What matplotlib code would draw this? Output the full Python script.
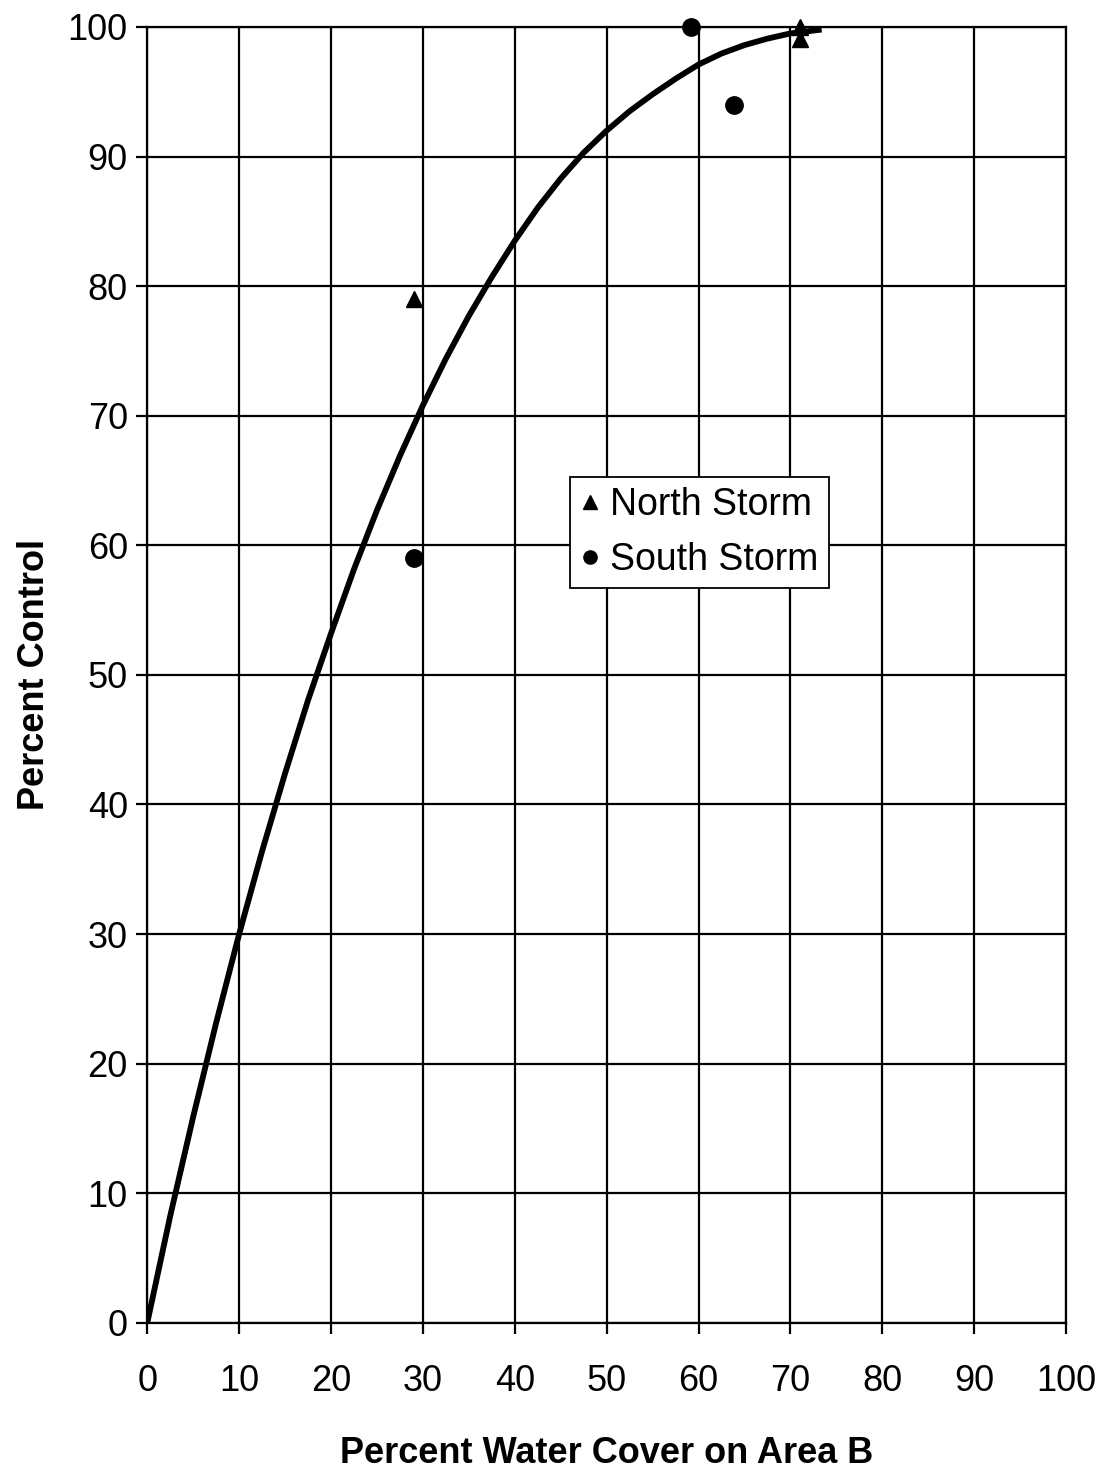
import matplotlib
matplotlib.use("Agg")
import matplotlib.pyplot as plt
from matplotlib.lines import Line2D

plt.rcParams['font.family'] = ['Liberation Sans', 'DejaVu Sans']

# Data
north_x = [29.0, 71.0, 71.0]
north_y = [79.0, 100.0, 99.1]
south_x = [29.0, 59.2, 63.9]
south_y = [59.0, 100.0, 94.0]

curve_x = [0, 2.5, 5, 7.5, 10, 12.5, 15, 17.5, 20, 22.5, 25, 27.5, 30, 32.5,
           35, 37.5, 40, 42.5, 45, 47.5, 50, 52.5, 55, 57.5, 60, 62.5, 65,
           67.5, 70, 73.4]
curve_y = [0.0, 8.25, 15.9, 23.15, 30.0, 36.4, 42.4, 48.05, 53.2, 58.15,
           62.7, 66.9, 70.8, 74.4, 77.7, 80.7, 83.5, 86.05, 88.3, 90.3, 92.0,
           93.5, 94.8, 96.0, 97.1, 97.95, 98.6, 99.1, 99.5, 99.8]

ticks = list(range(0, 101, 10))

fig = plt.figure(figsize=(10.99, 14.73), dpi=100)
ax = fig.add_axes([0.134, 0.102, 0.836, 0.8797])

ax.plot(curve_x, curve_y, color='black', lw=4.2, solid_capstyle='butt',
        solid_joinstyle='round', zorder=3)
ax.plot(north_x, north_y, linestyle='none', marker='^', color='black',
        markersize=12, zorder=4, clip_on=False)
ax.plot(south_x, south_y, linestyle='none', marker='o', color='black',
        markersize=12.5, zorder=4, clip_on=False)

ax.set_xlim(0, 100)
ax.set_ylim(0, 100)
ax.set_xticks(ticks)
ax.set_yticks(ticks)
ax.grid(True, color='black', lw=1.6)
ax.set_axisbelow(True)
for s in ax.spines.values():
    s.set_color('black')
    s.set_linewidth(1.6)
ax.tick_params(axis='both', direction='out', length=8, width=1.6,
               labelsize=26, colors='black')
ax.tick_params(axis='x', pad=22)
ax.tick_params(axis='y', pad=6)

ax.set_xlabel('Percent Water Cover on Area B', fontsize=26, fontweight='bold',
              labelpad=26)
ax.set_ylabel('Percent Control', fontsize=26, fontweight='bold', labelpad=11)

handles = [
    Line2D([], [], linestyle='none', marker='^', color='black', markersize=9.5),
    Line2D([], [], linestyle='none', marker='o', color='black', markersize=9.5),
]
leg = ax.legend(handles, ['North Storm', 'South Storm'], loc='upper left',
                bbox_to_anchor=(0.460, 0.653), fontsize=27, frameon=True,
                fancybox=False, handlelength=0.5, handletextpad=0.3,
                borderpad=0.28, labelspacing=0.5, borderaxespad=0)
leg.get_frame().set_edgecolor('black')
leg.get_frame().set_linewidth(1.3)
leg.get_frame().set_alpha(1)

fig.savefig('out.png', dpi=100, facecolor='white')
